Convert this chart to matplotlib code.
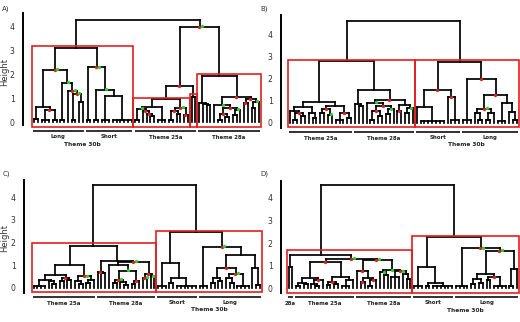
import matplotlib
matplotlib.use('Agg')
import matplotlib.pyplot as plt
from matplotlib.patches import Rectangle

# ---------------- data: dendrogram trees ----------------
# node = (height, child, child, ..., [marker]) ; leaf = 0 ; marker 'r','g','rg'
A_long = (2.18,
          (0.62, (0.12, 0, 0), (0.52, (0.1, 0, 0, 0), (0.1, 0, 0), 'r')),
          (1.65, (0.1, 0, 0), (1.31, 0, (1.18, (0.1, 0, 0), (0.85, 0, 0), 'rg'), 'rg'), 'g'),
          'rg')
A_short = (2.3, (0.1, 0, 0),
           (1.34, (0.1, 0, 0), (1.1, (0.1, 0, 0, 0), (0.1, 0, 0, 0, 0, 0, 0)), 'g'),
           'rg')
A_25a = (0.97,
         (0.62, (0.55, (0.1, 0, 0), (0.45, 0, (0.35, 0, (0.25, 0, 0), 'r'), 'r'), 'g'), (0.08, 0, 0, 0)),
         (0.6, (0.45, (0.1, 0, 0), (0.35, 0, 0), 'r'), (0.3, 0, 0, 'r'), 'rg'))
A_28a = (1.92,
         (0.8, 0, (0.75, 0, (0.7, 0, 0))),
         (1.06,
          (0.7, 0, (0.6, (0.35, (0.1, 0, 0), (0.2, 0, 0), 'r'), (0.5, (0.3, 0, 0), 0, 'g'), 'r'), 'g'),
          (0.95, (0.8, 0, 0, 'r'), (0.85, (0.6, 0, 0), 0, 'g'), 'r'),
          'r'))
tree_A = (4.3, (3.12, A_long, A_short),
          (4.0, (1.5, A_25a, (1.05, 0, 0), 'r'), A_28a, 'rg'))

B_25a = (0.95,
         (0.7, (0.55, 0, (0.45, (0.1, 0, 0), (0.3, 0, 0), 'r')), (0.45, 0, (0.2, 0, 0))),
         (0.75, (0.6, (0.45, 0, 0), (0.35, 0, 0, 'g'), 'r'),
          (0.45, (0.1, 0, 0, 0), (0.2, 0, 0), 'r')))
B_28a = (1.48,
         (0.85, 0, (0.75, 0, 0)),
         (1.02,
          (0.9, 0, (0.75, (0.55, (0.1, 0, 0), (0.3, 0, 0), 'r'), (0.6, (0.4, 0, 0), 0, 'g'), 'r'), 'g'),
          (0.8, (0.55, 0, 0, 'r'), (0.65, (0.45, 0, 0), 0, 'g')),
          'r'))
B_short = (1.5, (0.7, 0, (0.08, 0, 0, 0, 0, 0, 0, 0)), (1.15, 0, (0.1, 0, 0, 0), 'r'), 'r')
B_long = (2.0, (0.1, 0, 0, 0),
          (1.25,
           (0.62, (0.45, 0, (0.1, 0, 0)), (0.45, (0.1, 0, 0), 0), 'rg'),
           (0.9, (0.08, 0, 0, 0), (0.5, 0, (0.1, 0, 0))),
           'r'),
          'r')
tree_B = (4.6, (2.79, B_25a, B_28a), (2.73, B_short, B_long))

C_25a = (1.0,
         (0.55, (0.35, (0.08, 0, 0, 0, 0), (0.3, 0, (0.15, 0, 0))), (0.45, (0.3, 0, 0), (0.35, 0, 0), 'r')),
         (0.5, (0.3, 0, (0.15, 0, 0)), (0.35, (0.2, 0, 0), 0), 'rg'))
C_28a = (1.2,
         (0.7, 0, (0.65, 0, 0), 'r'),
         (1.15,
          (1.0, 0, (0.75, (0.35, (0.2, 0, 0), (0.25, 0, (0.1, 0, 0)), 'rg'), (0.3, (0.15, 0, 0), 0, 'r'), 'g')),
          (0.6, (0.45, 0, 0, 'rg'), (0.5, 0, 0, 'g'), 'r'),
          'rg'))
C_short = (1.1, (0.08, 0, 0, 0), (0.45, (0.2, 0, 0), (0.08, 0, 0, 0, 0, 0, 0)))
C_long = (1.8, (0.08, 0, 0, 0),
          (1.44,
           (0.86, (0.45, (0.2, 0, 0), (0.3, 0, 0)),
            (0.6, (0.45, 0, (0.2, 0, 0)), (0.08, 0, 0, 0, 0), 'rg'), 'r'),
           (0.85, 0, (0.1, 0, 0))),
          'rg')
tree_C = (4.56, (1.85, C_25a, C_28a), (2.45, C_short, C_long))

D_25a = (1.16,
         (0.45, (0.25, (0.1, 0, 0), (0.2, 0, 0)), (0.35, (0.2, 0, (0.1, 0, 0)), 0, 'r')),
         (0.5, (0.3, (0.15, 0, 0), (0.2, 0, 0), 'r'), (0.35, (0.08, 0, 0, 0), 0)),
         'r')
D_28a = (1.25,
         (0.75, 0, (0.45, (0.3, 0, 0, 'r'), (0.35, (0.1, 0, 0), 0, 'r')), 'r'),
         (0.8, (0.7, 0, (0.6, 0, 0), 'g'), (0.75, (0.5, 0, 0, 0), (0.65, 0, (0.4, 0, 0)), 'rg'), 'g'),
         'rg')
D_short = (0.94, (0.08, 0, 0, 0), (0.25, (0.1, 0, 0), (0.08, 0, 0, 0, 0, 0, 0)))
D_long = (1.77, (0.08, 0, 0, 0, 0),
          (1.65,
           (0.62, (0.4, (0.2, 0, 0), (0.25, 0, 0)), (0.5, (0.35, 0, 0), (0.08, 0, 0, 0, 0), 'r')),
           (0.85, (0.1, 0, 0), 0),
           'rg'),
          'rg')
tree_D = (4.55, (1.46, (0.95, 0, 0), (1.3, D_25a, D_28a, 'rg')), (2.27, D_short, D_long))

# red boxes: (first leaf, last leaf, top height)
boxes_A = [(0, 26, 3.2), (27, 41, 1.02), (42, 43, 1.17), (44, 60, 2.02)]
boxes_B = [(0, 32, 2.82), (33, 59, 2.84)]
boxes_C = [(0, 32, 1.96), (33, 60, 2.52)]
boxes_D = [(0, 32, 1.68), (33, 60, 2.32)]

# group bars: (label, first leaf, last leaf)
groups_A = [("Long", 0, 13), ("Short", 14, 26), ("Theme 25a", 27, 43), ("Theme 28a", 44, 60)]
groups_B = [("Theme 25a", 0, 16), ("Theme 28a", 17, 32), ("Short", 33, 44), ("Long", 45, 59)]
groups_C = [("Theme 25a", 0, 16), ("Theme 28a", 17, 32), ("Short", 33, 43), ("Long", 44, 60)]
groups_D = [("28a", 0, 1), ("Theme 25a", 2, 17), ("Theme 28a", 18, 32), ("Short", 33, 43), ("Long", 44, 60)]
super_label = "Theme 30b"
yticks = [0, 1, 2, 3, 4]
panel_letters = ["A)", "B)", "C)", "D)"]

RED = '#e0201e'
GREEN = '#2fd12f'
W, H = 520, 322
fig = plt.figure(figsize=(W / 100, H / 100), dpi=100)


def layout(node, counter, segs, marks):
    if not isinstance(node, tuple):
        x = counter[0]
        counter[0] += 1
        return x, 0.0
    h = node[0]
    mark = node[-1] if isinstance(node[-1], str) else ''
    kids = [c for c in node[1:] if not isinstance(c, str)]
    pos = [layout(k, counter, segs, marks) for k in kids]
    xs = [p[0] for p in pos]
    for x, y in pos:
        segs.append(([x, x], [y, h]))
    segs.append(([xs[0], xs[-1]], [h, h]))
    xc = (xs[0] + xs[-1]) / 2
    if 'r' in mark:
        marks.append((xc - 0.15, h, RED))
    if 'g' in mark:
        marks.append((xc + (0.6 if 'r' in mark else 0.2), h + 0.03, GREEN))
    return xc, h


def panel(tree, boxes, groups, cfg, letter, ylabel):
    spine, right, top, bottom, l0, lN, y0, unit, sp_lo, sp_hi = cfg
    segs, marks = [], []
    counter = [0]
    layout(tree, counter, segs, marks)
    n = counter[0]
    step = (lN - l0) / (n - 1)
    ax = fig.add_axes([spine / W, 1 - bottom / H, (right - spine) / W, (bottom - top) / H])
    ax.set_xlim((spine - l0) / step, (right - l0) / step)
    ax.set_ylim((y0 - bottom) / unit, (y0 - top) / unit)
    for xs, ys in segs:
        ax.plot(xs, ys, color='black', lw=1.25, solid_capstyle='projecting', clip_on=False, zorder=2)
    for x, y, c in marks:
        ax.plot([x], [y], 'o', color=c, ms=2.4, mec='none', zorder=4, clip_on=False)
    for a, b, t in boxes:
        ax.add_patch(Rectangle((a - 0.5, -0.2), b - a + 1, t + 0.2, fill=False,
                               ec=RED, lw=1.2, zorder=3, clip_on=False))
    for s in ['top', 'right', 'bottom']:
        ax.spines[s].set_visible(False)
    ax.spines['left'].set_bounds(sp_lo, sp_hi)
    ax.spines['left'].set_linewidth(1.4)
    ax.set_xticks([])
    ax.set_yticks(yticks)
    ax.tick_params(axis='y', length=0, pad=6, labelsize=5.6, labelcolor='#333333')
    ax.patch.set_visible(False)
    px = lambda p: -p / unit
    sub = [g for g in groups if g[0] in ("Short", "Long")]
    for name, a, b in groups:
        ax.plot([a - 0.2, b + 0.2], [px(9), px(9)], color='#222222', lw=1.3,
                clip_on=False, solid_capstyle='butt')
        yy = px(14.5) if name in ("Short", "Long") else px(15.5)
        ax.text((a + b) / 2, yy, name, ha='center', va='center', fontsize=3.9,
                fontweight='bold', color='#222222')
    xs = [a for _, a, _ in sub] + [b for _, _, b in sub]
    ax.text((min(xs) + max(xs)) / 2, px(22), super_label, ha='center', va='center',
            fontsize=4.2, fontweight='bold', color='#222222')
    fig.text((spine - 21) / W, 1 - (top - 1) / H, letter, fontsize=5, color='#333333',
             ha='left', va='center')
    if ylabel:
        fig.text(5 / W, 1 - (y0 - 50) / H, 'Height', rotation=90, fontsize=6,
                 color='#333333', ha='center', va='center')


panel(tree_A, boxes_A, groups_A, (23, 264, 10, 132, 34, 259, 122, 23.8, -0.13, 4.6), panel_letters[0], True)
panel(tree_B, boxes_B, groups_B, (281, 520, 10, 132, 289.5, 517, 122.7, 22.1, -0.23, 4.86), panel_letters[1], False)
panel(tree_C, boxes_C, groups_C, (24, 264, 175, 296, 33.5, 260, 287.7, 22.6, -0.22, 4.77), panel_letters[2], True)
panel(tree_D, boxes_D, groups_D, (281, 520, 175, 296, 288.5, 517, 288.3, 22.6, -0.19, 4.75), panel_letters[3], False)

fig.savefig('out.png', dpi=100)
